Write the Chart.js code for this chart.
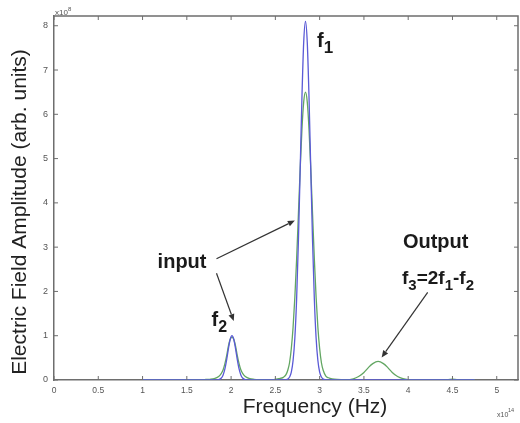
<!DOCTYPE html>
<html>
<head>
<meta charset="utf-8">
<script src="https://cdn.jsdelivr.net/npm/chart.js@4/dist/chart.umd.min.js"></script>
<style>
  html, body { margin: 0; padding: 0; background: #fff; }
  canvas { display: block; }
</style>
</head>
<body>
<canvas id="chart" width="520" height="423"></canvas>
<script>
// Frequency samples (x10^14 Hz)
const freq = [
    1.0, 1.3, 1.6, 1.7, 1.76,
    1.81, 1.86, 1.89, 1.91, 1.93, 1.95, 1.97, 1.99, 2.01, 2.03, 2.05, 2.07, 2.09, 2.11, 2.13, 2.16, 2.21, 2.26, 2.32,
    2.4, 2.48, 2.54, 2.59, 2.62, 2.64, 2.66, 2.68, 2.70, 2.72, 2.74, 2.76, 2.78, 2.80, 2.82,
    2.84, 2.86, 2.88, 2.90, 2.92, 2.94, 2.96, 2.98, 3.00, 3.02, 3.04, 3.07, 3.10, 3.14, 3.2,
    3.3, 3.38, 3.44, 3.5, 3.55, 3.6, 3.66, 3.72, 3.77, 3.82, 3.88, 3.94, 4.0, 4.1,
    4.3, 4.45, 4.5, 4.55, 4.75
];

// Input field (blue), x10^8
const inputAmp = [
    0, 0, 0, 0, 0,
    0, 0.01, 0.045, 0.115, 0.25, 0.46, 0.71, 0.92, 1.0, 0.92, 0.71, 0.46, 0.25, 0.115, 0.045, 0.01, 0, 0, 0,
    0, 0, 0, 0.001, 0.006, 0.02, 0.066, 0.18, 0.44, 0.95, 1.83, 3.13, 4.74, 6.38, 7.63,
    8.1, 7.63, 6.38, 4.74, 3.13, 1.83, 0.95, 0.44, 0.18, 0.066, 0.02, 0.003, 0, 0, 0,
    0, 0, 0, 0, 0, 0, 0, 0, 0, 0, 0, 0, 0, 0,
    0, 0, 0, 0, 0
];

// Output field (green), x10^8
const outputAmp = [
    0.003, 0.004, 0.006, 0.01, 0.015,
    0.03, 0.08, 0.15, 0.23, 0.37, 0.55, 0.77, 0.92, 0.97, 0.92, 0.77, 0.55, 0.37, 0.23, 0.15, 0.08, 0.03, 0.015, 0.008,
    0.005, 0.01, 0.03, 0.06, 0.12, 0.22, 0.39, 0.71, 1.19, 1.87, 2.73, 3.74, 4.76, 5.66, 6.28,
    6.5, 6.28, 5.66, 4.76, 3.74, 2.73, 1.87, 1.19, 0.71, 0.39, 0.22, 0.09, 0.05, 0.025, 0.012,
    0.008, 0.028, 0.078, 0.17, 0.28, 0.37, 0.42, 0.37, 0.28, 0.17, 0.078, 0.03, 0.01, 0.004,
    0.004, 0.01, 0.018, 0.01, 0.003
];

const xTicks = [0, 0.5, 1, 1.5, 2, 2.5, 3, 3.5, 4, 4.5, 5];
const yTicks = [0, 1, 2, 3, 4, 5, 6, 7, 8];

const FONT = "'Liberation Sans', Arial, sans-serif";
const AXIS_GREY = '#6e6e6e';

// draw a run of text pieces, some of them subscripted
function drawRuns(ctx, x, y, runs, size, subSize) {
    runs.forEach(([txt, sub]) => {
        ctx.font = `bold ${sub ? subSize : size}px ${FONT}`;
        ctx.fillText(txt, x, sub ? y + 6 : y);
        x += ctx.measureText(txt).width;
    });
}

function arrow(ctx, x1, y1, x2, y2) {
    const ang = Math.atan2(y2 - y1, x2 - x1);
    const len = 7, w = 3;
    ctx.beginPath();
    ctx.moveTo(x1, y1);
    ctx.lineTo(x2 - Math.cos(ang) * len, y2 - Math.sin(ang) * len);
    ctx.stroke();
    ctx.beginPath();
    ctx.moveTo(x2, y2);
    ctx.lineTo(x2 - Math.cos(ang) * len - Math.sin(ang) * w, y2 - Math.sin(ang) * len + Math.cos(ang) * w);
    ctx.lineTo(x2 - Math.cos(ang) * len + Math.sin(ang) * w, y2 - Math.sin(ang) * len - Math.cos(ang) * w);
    ctx.closePath();
    ctx.fill();
}

// box, inward ticks, exponent labels, axis titles, annotations
const figureExtras = {
    id: 'figureExtras',
    afterDraw(chart) {
        const { ctx, chartArea: a, scales } = chart;
        const sx = v => scales.x.getPixelForValue(v);
        const sy = v => scales.y.getPixelForValue(v);

        ctx.save();
        // top and right box edges
        ctx.strokeStyle = AXIS_GREY;
        ctx.lineWidth = 1.5;
        ctx.beginPath();
        ctx.moveTo(a.left, a.top);
        ctx.lineTo(a.right, a.top);
        ctx.lineTo(a.right, a.bottom);
        ctx.stroke();

        // inward tick marks on all four sides
        ctx.lineWidth = 1;
        ctx.beginPath();
        xTicks.forEach(v => {
            const px = sx(v);
            ctx.moveTo(px, a.bottom); ctx.lineTo(px, a.bottom - 4);
            ctx.moveTo(px, a.top); ctx.lineTo(px, a.top + 4);
        });
        yTicks.forEach(v => {
            const py = sy(v);
            ctx.moveTo(a.left, py); ctx.lineTo(a.left + 4, py);
            ctx.moveTo(a.right, py); ctx.lineTo(a.right - 4, py);
        });
        ctx.stroke();

        // exponent labels
        ctx.fillStyle = '#555';
        ctx.textBaseline = 'alphabetic';
        ctx.font = `8px ${FONT}`;
        ctx.fillText('x10', a.left + 1, a.top - 1);
        ctx.font = `6px ${FONT}`;
        ctx.fillText('8', a.left + 14, a.top - 5);
        ctx.font = `7px ${FONT}`;
        ctx.fillText('x10', a.right - 21, a.bottom + 37);
        ctx.font = `5.5px ${FONT}`;
        ctx.fillText('14', a.right - 10, a.bottom + 32);

        // axis titles
        ctx.fillStyle = '#222';
        ctx.font = `21px ${FONT}`;
        ctx.textAlign = 'center';
        ctx.fillText('Frequency (Hz)', 315, 413);
        ctx.save();
        ctx.translate(26, 212);
        ctx.rotate(-Math.PI / 2);
        ctx.fillText('Electric Field Amplitude (arb. units)', 0, 0);
        ctx.restore();

        // annotations
        ctx.textAlign = 'left';
        ctx.fillStyle = '#1a1a1a';
        drawRuns(ctx, sx(2.97), sy(7.53), [['f', false], ['1', true]], 20, 17);
        drawRuns(ctx, sx(1.17), sy(2.52), [['input', false]], 20, 17);
        drawRuns(ctx, sx(1.78), sy(1.23), [['f', false], ['2', true]], 20, 16);
        drawRuns(ctx, sx(3.94), sy(2.99), [['Output', false]], 20, 17);
        drawRuns(ctx, sx(3.93), sy(2.16),
            [['f', false], ['3', true], ['=2f', false], ['1', true], ['-f', false], ['2', true]], 19, 15);

        ctx.strokeStyle = '#333';
        ctx.fillStyle = '#333';
        ctx.lineWidth = 1.2;
        arrow(ctx, sx(1.835), sy(2.74), sx(2.72), sy(3.6));
        arrow(ctx, sx(1.835), sy(2.41), sx(2.03), sy(1.33));
        arrow(ctx, sx(4.22), sy(1.98), sx(3.70), sy(0.51));
        ctx.restore();
    }
};

const ctx = document.getElementById('chart').getContext('2d');
new Chart(ctx, {
    type: 'line',
    data: {
        datasets: [
            {
                label: 'input',
                data: freq.map((f, i) => ({ x: f, y: inputAmp[i] })),
                borderColor: '#5a5ad6',
                borderWidth: 1.3,
                pointRadius: 0,
                cubicInterpolationMode: 'monotone',
                order: 0
            },
            {
                label: 'output',
                data: freq.map((f, i) => ({ x: f, y: outputAmp[i] })),
                borderColor: '#62a662',
                borderWidth: 1.3,
                pointRadius: 0,
                cubicInterpolationMode: 'monotone',
                order: 1
            }
        ]
    },
    options: {
        responsive: false,
        animation: false,
        layout: { padding: { top: 16, right: 2, left: 0, bottom: 0 } },
        plugins: {
            legend: { display: false },
            tooltip: { enabled: false }
        },
        scales: {
            x: {
                type: 'linear',
                min: 0,
                max: 5.24,
                afterBuildTicks: s => { s.ticks = xTicks.map(v => ({ value: v })); },
                afterFit: s => { s.height = 43; },
                grid: { drawOnChartArea: false, drawTicks: false },
                border: { display: true, color: AXIS_GREY, width: 1.5 },
                ticks: {
                    autoSkip: false,
                    maxRotation: 0,
                    padding: 6,
                    color: '#555',
                    font: { size: 8.5, family: FONT },
                    callback: v => String(v)
                }
            },
            y: {
                min: 0,
                max: 8.22,
                afterBuildTicks: s => { s.ticks = yTicks.map(v => ({ value: v })); },
                afterFit: s => { s.width = 54; },
                grid: { drawOnChartArea: false, drawTicks: false },
                border: { display: true, color: AXIS_GREY, width: 1.5 },
                ticks: {
                    padding: 6,
                    color: '#555',
                    font: { size: 9, family: FONT },
                    callback: v => String(v)
                }
            }
        }
    },
    plugins: [figureExtras]
});
</script>
</body>
</html>
